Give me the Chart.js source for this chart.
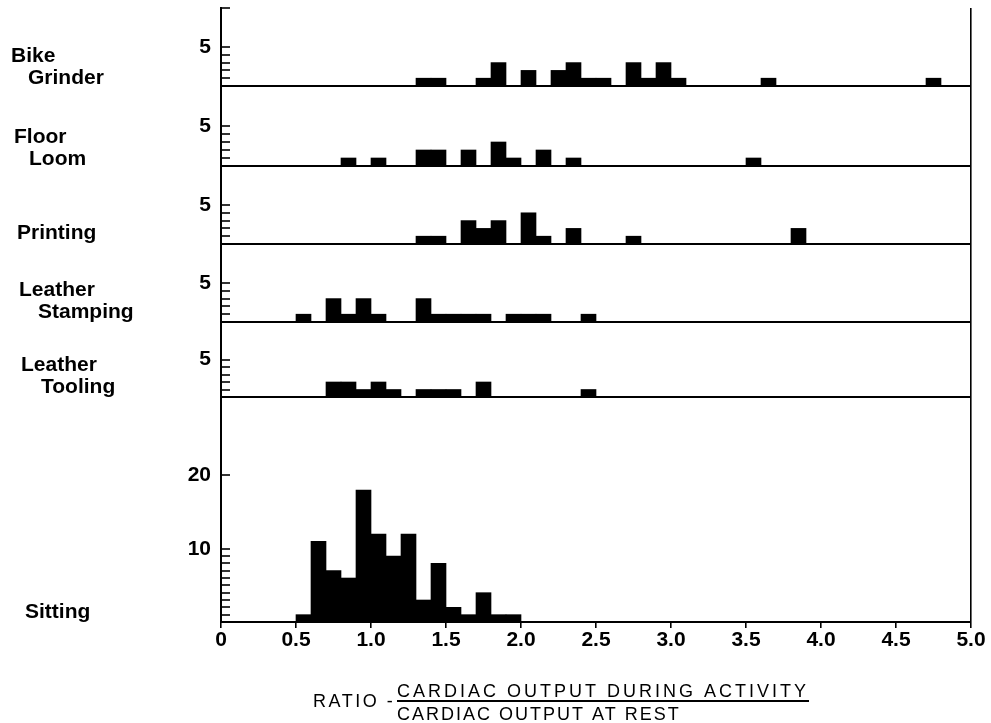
<!DOCTYPE html>
<html>
<head>
<meta charset="utf-8">
<script src="https://cdn.jsdelivr.net/npm/chart.js@4.4.1/dist/chart.umd.min.js"></script>
<style>
  html, body { margin: 0; padding: 0; background: #fff; }
  #wrap { position: relative; width: 991px; height: 723px; }
</style>
</head>
<body>
<div id="wrap"><canvas id="c" width="991" height="723"></canvas></div>
<script>
// ---------- DATA ----------
const activityNames = [['Bike', 'Grinder'], ['Floor', 'Loom'], ['Printing'], ['Leather', 'Stamping'], ['Leather', 'Tooling'], ['Sitting']];

// bin = left edge of a 0.1-wide ratio class; counts = number of subjects
const bikeGrinderBins   = [1.3, 1.4, 1.7, 1.8, 2.0, 2.2, 2.3, 2.4, 2.5, 2.7, 2.8, 2.9, 3.0, 3.6, 4.7];
const bikeGrinderCounts = [1,   1,   1,   3,   2,   2,   3,   1,   1,   3,   1,   3,   1,   1,   1];

const floorLoomBins   = [0.8, 1.0, 1.3, 1.4, 1.6, 1.8, 1.9, 2.1, 2.3, 3.5];
const floorLoomCounts = [1,   1,   2,   2,   2,   3,   1,   2,   1,   1];

const printingBins   = [1.3, 1.4, 1.6, 1.7, 1.8, 2.0, 2.1, 2.3, 2.7, 3.8];
const printingCounts = [1,   1,   3,   2,   3,   4,   1,   2,   1,   2];

const stampingBins   = [0.5, 0.7, 0.8, 0.9, 1.0, 1.3, 1.4, 1.5, 1.6, 1.7, 1.9, 2.0, 2.1, 2.4];
const stampingCounts = [1,   3,   1,   3,   1,   3,   1,   1,   1,   1,   1,   1,   1,   1];

const toolingBins   = [0.7, 0.8, 0.9, 1.0, 1.1, 1.3, 1.4, 1.5, 1.7, 2.4];
const toolingCounts = [2,   2,   1,   2,   1,   1,   1,   1,   2,   1];

const sittingBins   = [0.5, 0.6, 0.7, 0.8, 0.9, 1.0, 1.1, 1.2, 1.3, 1.4, 1.5, 1.6, 1.7, 1.8, 1.9];
const sittingCounts = [1,   11,  7,   6,   18,  12,  9,   12,  3,   8,   2,   1,   4,   1,   1];

const binWidth = 0.1;

const xTickValues = [0, 0.5, 1.0, 1.5, 2.0, 2.5, 3.0, 3.5, 4.0, 4.5, 5.0];
const xTickLabels = ['0', '0.5', '1.0', '1.5', '2.0', '2.5', '3.0', '3.5', '4.0', '4.5', '5.0'];

const topTickValues    = [0, 1, 2, 3, 4, 5, 10];
const topTickLabels    = ['', '', '', '', '', '5', ''];
const smallTickValues  = [0, 1, 2, 3, 4, 5];
const smallTickLabels  = ['', '', '', '', '', '5'];
const sittingTickValues = [0, 1, 2, 3, 4, 5, 6, 7, 8, 9, 10, 20];
const sittingTickLabels = ['', '', '', '', '', '', '', '', '', '', '10', '20'];

const titlePrefix = 'RATIO -';
const titleNumerator = 'CARDIAC OUTPUT DURING ACTIVITY';
const titleDenominator = 'CARDIAC OUTPUT AT REST';

// ---------- STYLE / LAYOUT ----------
const FONT = '"Liberation Sans", Arial, sans-serif';
const panelIds = ['yBike', 'yLoom', 'yPrint', 'yStamp', 'yTool', 'ySit'];
const panelWeights = [78, 80, 78, 78, 75, 225];
const panelMax = [10, 10, 10, 10, 10, 30.7];
const nameX = [[11, 28], [14, 29], [17], [19, 38], [21, 41], [25]];
const nameLift = [2, 1, 5, 4, 4, 4];

function yScale(p, tickValues, tickLabels) {
  return {
    type: 'linear',
    position: 'left',
    stack: 'panels',
    stackWeight: panelWeights[p],
    weight: 10 - p,
    min: 0,
    max: panelMax[p],
    afterBuildTicks: s => { s.ticks = tickValues.map(v => ({ value: v })); },
    ticks: {
      autoSkip: false,
      maxRotation: 0,
      padding: 19,
      color: '#000',
      font: { family: FONT, size: 21, weight: 'bold' },
      callback: (v, i) => tickLabels[i]
    },
    grid: {
      drawTicks: true,
      tickLength: -9,
      lineWidth: 2,
      tickWidth: 1.6,
      color: c => (c.tick && c.tick.value === 0) ? '#000' : 'rgba(0,0,0,0)',
      tickColor: c => (c.tick && c.tick.value > 0) ? '#000' : 'rgba(0,0,0,0)'
    },
    border: { display: true, color: '#000', width: 2 },
    afterFit: s => { s.width = 221; s.paddingTop = 0; s.paddingBottom = 0; }
  };
}

function barSet(label, bins, counts, axisId) {
  return {
    label,
    data: bins.map((b, i) => ({ x: b + binWidth / 2, y: counts[i] })),
    yAxisID: axisId,
    backgroundColor: '#000',
    borderWidth: 0,
    grouped: false,
    barPercentage: 1,
    categoryPercentage: 1
  };
}

const textPlugin = {
  id: 'panelText',
  afterDraw(chart) {
    const ctx = chart.ctx;
    ctx.save();
    ctx.fillStyle = '#000';
    ctx.textBaseline = 'alphabetic';
    ctx.textAlign = 'left';
    ctx.font = 'bold 21px ' + FONT;
    panelIds.forEach((id, p) => {
      const s = chart.scales[id];
      const lines = activityNames[p];
      lines.forEach((ln, k) => {
        const y = s.bottom - nameLift[p] - (lines.length - 1 - k) * 22;
        ctx.fillText(ln, nameX[p][k], y);
      });
    });
    // x-axis title as a fraction
    ctx.font = '18px ' + FONT;
    try { ctx.letterSpacing = '2.5px'; } catch (e) {}
    ctx.fillText(titlePrefix, 313, 707);
    try { ctx.letterSpacing = '3px'; } catch (e) {}
    ctx.fillText(titleNumerator, 397, 697);
    const w = ctx.measureText(titleNumerator).width;
    try { ctx.letterSpacing = '2px'; } catch (e) {}
    ctx.fillText(titleDenominator, 397, 720);
    ctx.beginPath();
    ctx.lineWidth = 2;
    ctx.strokeStyle = '#000';
    ctx.moveTo(397, 701);
    ctx.lineTo(397 + w, 701);
    ctx.stroke();
    ctx.restore();
  }
};

const scales = {
  x: {
    type: 'linear',
    position: 'bottom',
    min: 0,
    max: 5,
    offset: false,
    afterBuildTicks: s => { s.ticks = xTickValues.map(v => ({ value: v })); },
    ticks: {
      autoSkip: false,
      maxRotation: 0,
      padding: 0,
      color: '#000',
      font: { family: FONT, size: 21, weight: 'bold' },
      callback: (v, i) => xTickLabels[i]
    },
    grid: {
      offset: false,
      drawTicks: true,
      tickLength: 6,
      tickWidth: 1.6,
      tickColor: '#000',
      lineWidth: 1.6,
      color: c => (c.tick && c.tick.value === 5) ? '#000' : 'rgba(0,0,0,0)'
    },
    border: { display: true, color: '#000', width: 2 },
    afterFit: s => { s.height = 101; s.paddingLeft = 0; s.paddingRight = 0; }
  }
};
scales.yBike  = yScale(0, topTickValues, topTickLabels);
scales.yLoom  = yScale(1, smallTickValues, smallTickLabels);
scales.yPrint = yScale(2, smallTickValues, smallTickLabels);
scales.yStamp = yScale(3, smallTickValues, smallTickLabels);
scales.yTool  = yScale(4, smallTickValues, smallTickLabels);
scales.ySit   = yScale(5, sittingTickValues, sittingTickLabels);

new Chart(document.getElementById('c'), {
  type: 'bar',
  data: {
    datasets: [
      barSet('Bike Grinder', bikeGrinderBins, bikeGrinderCounts, 'yBike'),
      barSet('Floor Loom', floorLoomBins, floorLoomCounts, 'yLoom'),
      barSet('Printing', printingBins, printingCounts, 'yPrint'),
      barSet('Leather Stamping', stampingBins, stampingCounts, 'yStamp'),
      barSet('Leather Tooling', toolingBins, toolingCounts, 'yTool'),
      barSet('Sitting', sittingBins, sittingCounts, 'ySit')
    ]
  },
  options: {
    responsive: false,
    animation: false,
    layout: { padding: { left: 0, right: 20, top: 8, bottom: 0 } },
    plugins: { legend: { display: false }, tooltip: { enabled: false }, title: { display: false } },
    scales
  },
  plugins: [textPlugin]
});
</script>
</body>
</html>
